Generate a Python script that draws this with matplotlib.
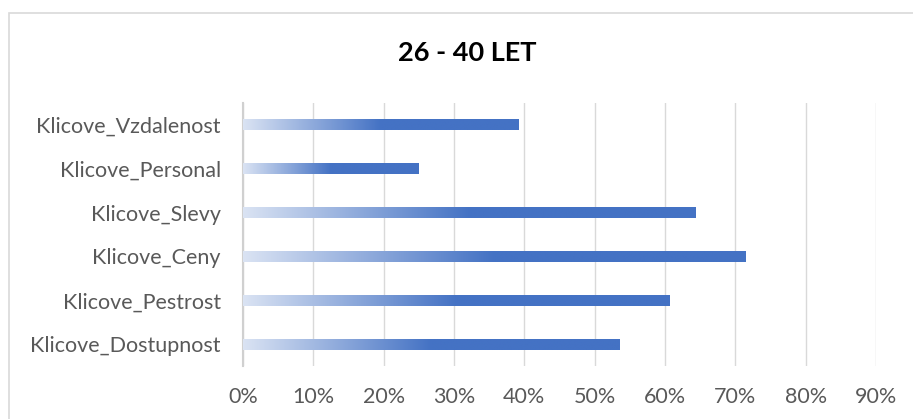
import numpy as np
import matplotlib
matplotlib.use("Agg")
import matplotlib.pyplot as plt
from matplotlib.colors import LinearSegmentedColormap
from matplotlib.patches import Rectangle

# data, bottom to top as drawn
categories = ["Klicove_Dostupnost", "Klicove_Pestrost", "Klicove_Ceny",
              "Klicove_Slevy", "Klicove_Personal", "Klicove_Vzdalenost"]
values = [0.536, 0.607, 0.715, 0.643, 0.250, 0.392]
xticks = [0.0, 0.1, 0.2, 0.3, 0.4, 0.5, 0.6, 0.7, 0.8, 0.9]
title = "26 - 40 LET"

plt.rcParams['font.family'] = ['Lato', 'DejaVu Sans']

fig = plt.figure(figsize=(9.13, 4.19), dpi=100)
ax = fig.add_axes([243 / 913, 53 / 419, 633 / 913, 263 / 419])

# outer chart frame
fig.patches.append(Rectangle((9 / 913, -0.1), 1.0, (419 - 13) / 419 + 0.1,
                             transform=fig.transFigure, fill=False,
                             edgecolor='#d9d9d9', linewidth=1.2))

# gradient: light blue -> full blue over the first half of each bar
cmap = LinearSegmentedColormap.from_list("grad", ["#dae3f3", "#4472c4"])
bar_h = 0.25
for i, v in enumerate(values):
    g = np.clip(np.linspace(0, 1, 256) / 0.5, 0, 1).reshape(1, -1)
    ax.imshow(g, cmap=cmap, aspect='auto', interpolation='bilinear',
              extent=[0, v, i - bar_h / 2, i + bar_h / 2], zorder=3)

ax.set_xlim(0, 0.9)
ax.set_ylim(-0.5, len(categories) - 0.5)
ax.set_xticks(xticks)
ax.set_xticklabels([f"{int(round(t * 100))}%" for t in xticks])
ax.set_yticks(range(len(categories)))
ax.set_yticklabels(categories)

ax.grid(axis='x', color='#d9d9d9', linewidth=1.0, zorder=0)
ax.set_axisbelow(True)
for s in ['top', 'right', 'bottom']:
    ax.spines[s].set_visible(False)
ax.spines['left'].set_color('#d0d0d0')
ax.spines['left'].set_linewidth(1.5)
ax.tick_params(axis='both', length=0, colors='#595959', labelsize=15.5)
ax.tick_params(axis='x', pad=15)
ax.tick_params(axis='y', pad=16)

fig.text(467 / 913, 1 - 53 / 419, title, ha='center', va='center',
         fontsize=19.5, fontweight='bold', color='black')

fig.savefig("out.png", dpi=100)
